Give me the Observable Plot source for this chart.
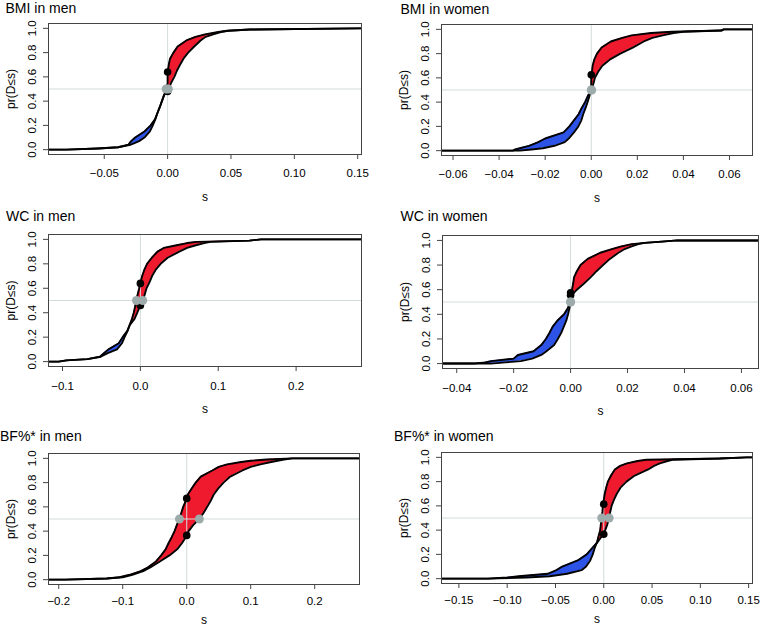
<!DOCTYPE html>
<html>
<head>
<meta charset="utf-8">
<script src="https://cdn.jsdelivr.net/npm/d3@7"></script>
<script src="https://cdn.jsdelivr.net/npm/@observablehq/plot@0.6"></script>
<style>
  html, body { margin: 0; padding: 0; background: white; }
  #root { position: relative; width: 760px; height: 626px; background: white; overflow: hidden;
          font-family: "Liberation Sans", Arial, Helvetica, sans-serif; color: black; }
  .title { position: absolute; font-size: 14px; line-height: 14px; white-space: nowrap; }
  .panel { position: absolute; }
</style>
</head>
<body>
<div id="root"></div>
<script>
// ---------- DATA ----------
// probability levels at which each curve's s-value was read
const levels = [0, 0, 0.01, 0.02, 0.04, 0.07, 0.1, 0.15, 0.2, 0.25, 0.3, 0.35, 0.4, 0.45, 0.5,
                0.55, 0.6, 0.65, 0.7, 0.75, 0.8, 0.85, 0.9, 0.93, 0.95, 0.97, 0.98, 0.99, 1, 1];

const panelTitles = ["BMI in men", "BMI in women", "WC in men", "WC in women", "BF%* in men", "BF%* in women"];

// curve A (higher pr at s = 0) and curve B, s-values at each level
const bmiMenA = [-0.094, -0.080, -0.055, -0.039, -0.0295, -0.0225, -0.0183, -0.014, -0.0117, -0.0097, -0.0081, -0.0062, -0.0045, -0.0028, -0.0008,
                 0, 0, 0.0002, 0.0009, 0.0019, 0.0046, 0.0079, 0.0148, 0.022, 0.0295, 0.040, 0.047, 0.065, 0.150, 0.153];
const bmiMenB = [-0.094, -0.080, -0.055, -0.039, -0.031, -0.0288, -0.0256, -0.0183, -0.0134, -0.0100, -0.0081, -0.0062, -0.0045, -0.0028, 0.0010,
                 0.0027, 0.0053, 0.0073, 0.0098, 0.0125, 0.0162, 0.021, 0.026, 0.030, 0.036, 0.042, 0.048, 0.065, 0.150, 0.153];

const bmiWomenA = [-0.065, -0.031, -0.026, -0.021, -0.016, -0.0115, -0.0098, -0.0075, -0.0056, -0.0043, -0.0035, -0.0025, -0.0016, -0.0008, 0,
                   0, 0, 0.0003, 0.0006, 0.0013, 0.0025, 0.0045, 0.0085, 0.0135, 0.0175, 0.026, 0.035, 0.0565, 0.0575, 0.070];
const bmiWomenB = [-0.065, -0.034, -0.033, -0.031, -0.027, -0.023, -0.020, -0.012, -0.0095, -0.0075, -0.0055, -0.0042, -0.0027, -0.0015, 0,
                   0.0009, 0.0016, 0.003, 0.0048, 0.008, 0.0126, 0.018, 0.0228, 0.0265, 0.031, 0.0357, 0.040, 0.0565, 0.0575, 0.070];

const wcMenA = [-0.118, -0.105, -0.095, -0.068, -0.051, -0.042, -0.030, -0.0237, -0.0203, -0.0165, -0.0137, -0.0108, -0.0085, -0.0068, -0.0052,
                -0.0035, -0.0015, 0.0002, 0.0023, 0.0050, 0.0086, 0.0147, 0.022, 0.030, 0.045, 0.060, 0.072, 0.140, 0.155, 0.284];
const wcMenB = [-0.118, -0.105, -0.095, -0.068, -0.052, -0.0465, -0.041, -0.0278, -0.0228, -0.017, -0.0135, -0.0075, -0.004, -0.0008, 0.0032,
                0.0056, 0.0079, 0.0118, 0.0150, 0.0195, 0.026, 0.035, 0.050, 0.060, 0.070, 0.082, 0.090, 0.140, 0.155, 0.284];

const wcWomenA = [-0.045, -0.028, -0.023, -0.0175, -0.0135, -0.0103, -0.0085, -0.0058, -0.0045, -0.0033, -0.0024, -0.0015, -0.0009, -0.0004, 0,
                  0, 0.0005, 0.0009, 0.0012, 0.0022, 0.0035, 0.006, 0.0104, 0.0145, 0.0175, 0.0215, 0.026, 0.032, 0.0375, 0.066];
const wcWomenB = [-0.045, -0.034, -0.030, -0.028, -0.020, -0.0185, -0.013, -0.0103, -0.0087, -0.0074, -0.0063, -0.0046, -0.0023, -0.001, 0,
                  0.0002, 0.0022, 0.0047, 0.007, 0.0091, 0.0114, 0.0138, 0.0168, 0.019, 0.0212, 0.0238, 0.026, 0.032, 0.0375, 0.066];

const bfMenA = [-0.216, -0.19, -0.125, -0.105, -0.089, -0.072, -0.061, -0.048, -0.040, -0.033, -0.0285, -0.0235, -0.019, -0.0155, -0.0115,
                -0.0085, -0.0055, -0.0015, 0.0015, 0.0075, 0.014, 0.022, 0.040, 0.050, 0.063, 0.085, 0.100, 0.125, 0.165, 0.270];
const bfMenB = [-0.216, -0.19, -0.125, -0.100, -0.085, -0.068, -0.057, -0.042, -0.027, -0.015, -0.0075, -0.0016, 0.003, 0.010, 0.0195,
                0.0262, 0.032, 0.0375, 0.042, 0.049, 0.0575, 0.068, 0.087, 0.100, 0.115, 0.132, 0.142, 0.152, 0.165, 0.270];

const bfWomenA = [-0.168, -0.12, -0.080, -0.056, -0.038, -0.023, -0.0183, -0.014, -0.0114, -0.0095, -0.0070, -0.0054, -0.0037, -0.0030, -0.0021,
                  -0.0014, -0.0009, 0.0, 0.001, 0.0025, 0.0043, 0.0075, 0.0115, 0.017, 0.024, 0.035, 0.044, 0.120, 0.148, 0.154];
const bfWomenB = [-0.168, -0.12, -0.100, -0.088, -0.058, -0.049, -0.043, -0.027, -0.0177, -0.0122, -0.0065, -0.002, 0.0015, 0.0038, 0.0055,
                  0.0067, 0.0081, 0.0105, 0.0135, 0.0173, 0.0235, 0.032, 0.046, 0.052, 0.058, 0.066, 0.071, 0.120, 0.148, 0.154];

// pr(D <= 0) for each curve (black points) and medians (grey points)
const blackDots = [[0.64, 0.48], [0.625, 0.50], [0.64, 0.46], [0.575, 0.555], [0.67, 0.365], [0.614, 0.366]];
const grayDots  = [[-0.0012, 0.0006], [0, 0.0002], [-0.005, 0.003], [0, 0], [-0.0114, 0.0197], [-0.0021, 0.0056]];
const S0 = 0, P50 = 0.5;

// ticks
const yTicks = [0, 0.2, 0.4, 0.6, 0.8, 1.0];
const yTickLabels = ["0.0", "0.2", "0.4", "0.6", "0.8", "1.0"];
const xTicks = [
  [-0.05, 0, 0.05, 0.10, 0.15],
  [-0.06, -0.04, -0.02, 0, 0.02, 0.04, 0.06],
  [-0.1, 0, 0.1, 0.2],
  [-0.04, -0.02, 0, 0.02, 0.04, 0.06],
  [-0.2, -0.1, 0, 0.1, 0.2],
  [-0.15, -0.10, -0.05, 0, 0.05, 0.10, 0.15]
];
const xTickLabels = [
  ["\u22120.05", "0.00", "0.05", "0.10", "0.15"],
  ["\u22120.06", "\u22120.04", "\u22120.02", "0.00", "0.02", "0.04", "0.06"],
  ["\u22120.1", "0.0", "0.1", "0.2"],
  ["\u22120.04", "\u22120.02", "0.00", "0.02", "0.04", "0.06"],
  ["\u22120.2", "\u22120.1", "0.0", "0.1", "0.2"],
  ["\u22120.15", "\u22120.10", "\u22120.05", "0.00", "0.05", "0.10", "0.15"]
];
const xDomains = [[-0.094, 0.153], [-0.065, 0.070], [-0.118, 0.284], [-0.045, 0.066], [-0.216, 0.270], [-0.168, 0.154]];
const curvesA = [bmiMenA, bmiWomenA, wcMenA, wcWomenA, bfMenA, bfWomenA];
const curvesB = [bmiMenB, bmiWomenB, wcMenB, wcWomenB, bfMenB, bfWomenB];
const xLabel = "s";
const yLabel = "pr(D\u2264s)";

// ---------- LAYOUT ----------
const layout = [
  {left: 0,   top: 0,   h: 205, mt: 23, mb: 51, ml: 48, mr: 19, tx: 5.5,  tt: 1,   tdy: 19,   sdy: 43},
  {left: 380, top: 0,   h: 205, mt: 24, mb: 50, ml: 61, mr: 8,  tx: 400.5, tt: 1.5, tdy: 19,   sdy: 43},
  {left: 0,   top: 205, h: 210, mt: 29, mb: 49, ml: 48, mr: 19, tx: 6,    tt: 209, tdy: 19.5, sdy: 43},
  {left: 380, top: 205, h: 210, mt: 30, mb: 47, ml: 62, mr: 2,  tx: 400.5, tt: 209, tdy: 19.5, sdy: 43},
  {left: 0,   top: 415, h: 211, mt: 38, mb: 42, ml: 48, mr: 21, tx: 0,    tt: 429, tdy: 16.5, sdy: 36},
  {left: 380, top: 415, h: 211, mt: 37, mb: 43, ml: 61, mr: 8,  tx: 394,  tt: 429, tdy: 16.5, sdy: 36}
];
const RED = "#f01a2e", BLUE = "#2c53e6", REF = "#d3dbdb", GREYDOT = "#9eabab", FRAME = "#444";
const FONT = '"Liberation Sans", Arial, Helvetica, sans-serif';

const root = document.getElementById("root");

layout.forEach((L, k) => {
  const rows = levels.map((p, i) => ({p, a: curvesA[k][i], b: curvesB[k][i]}));
  const xt = xTicks[k].map((v, i) => ({v, label: xTickLabels[k][i]}));
  const yt = yTicks.map((v, i) => ({v, label: yTickLabels[i]}));

  const svg = Plot.plot({
    width: 380, height: L.h,
    marginLeft: L.ml, marginRight: L.mr, marginTop: L.mt, marginBottom: L.mb,
    x: {domain: xDomains[k]},
    y: {domain: [-0.04, 1.04]},
    style: {background: "transparent", fontFamily: FONT, color: "black", overflow: "visible"},
    marks: [
      Plot.areaX(rows, {y: "p", x1: "a", x2: d => Math.max(d.a, d.b), fill: RED, clip: true}),
      Plot.areaX(rows, {y: "p", x1: "b", x2: d => Math.max(d.a, d.b), fill: BLUE, clip: true}),
      Plot.ruleY([P50], {stroke: REF, strokeWidth: 1}),
      Plot.ruleX([S0], {stroke: REF, strokeWidth: 1}),
      Plot.line(rows, {x: "a", y: "p", stroke: "black", strokeWidth: 1.9, clip: true}),
      Plot.line(rows, {x: "b", y: "p", stroke: "black", strokeWidth: 1.9, clip: true}),
      Plot.dot(blackDots[k], {x: () => S0, y: d => d, r: 3.8, fill: "black"}),
      Plot.dot(grayDots[k], {x: d => d, y: () => P50, r: 4.5, fill: GREYDOT}),
      Plot.frame({stroke: FRAME}),
      Plot.axisX({ticks: xTicks[k], tickSize: 5, tickFormat: () => "", label: null, stroke: FRAME}),
      Plot.axisY({ticks: yTicks, tickSize: 5, tickFormat: () => "", label: null, stroke: FRAME}),
      Plot.text(xt, {x: "v", frameAnchor: "bottom", dy: L.tdy, text: "label", fontSize: 11.5,
                     textAnchor: "middle", lineAnchor: "middle"}),
      Plot.text(yt, {y: "v", frameAnchor: "left", dx: -16.5, rotate: -90, text: "label", fontSize: 11.5,
                     textAnchor: "middle", lineAnchor: "middle"}),
      Plot.text([xLabel], {frameAnchor: "bottom", dy: L.sdy, text: d => d, fontSize: 12,
                           textAnchor: "middle", lineAnchor: "middle"}),
      Plot.text([yLabel], {frameAnchor: "left", dx: -37, rotate: -90, text: d => d, fontSize: 12,
                           textAnchor: "middle", lineAnchor: "middle"})
    ]
  });
  const wrap = document.createElement("div");
  wrap.className = "panel";
  wrap.style.left = L.left + "px";
  wrap.style.top = L.top + "px";
  wrap.appendChild(svg);
  root.appendChild(wrap);

  const t = document.createElement("div");
  t.className = "title";
  t.style.left = L.tx + "px";
  t.style.top = L.tt + "px";
  t.textContent = panelTitles[k];
  root.appendChild(t);
});
</script>
</body>
</html>
